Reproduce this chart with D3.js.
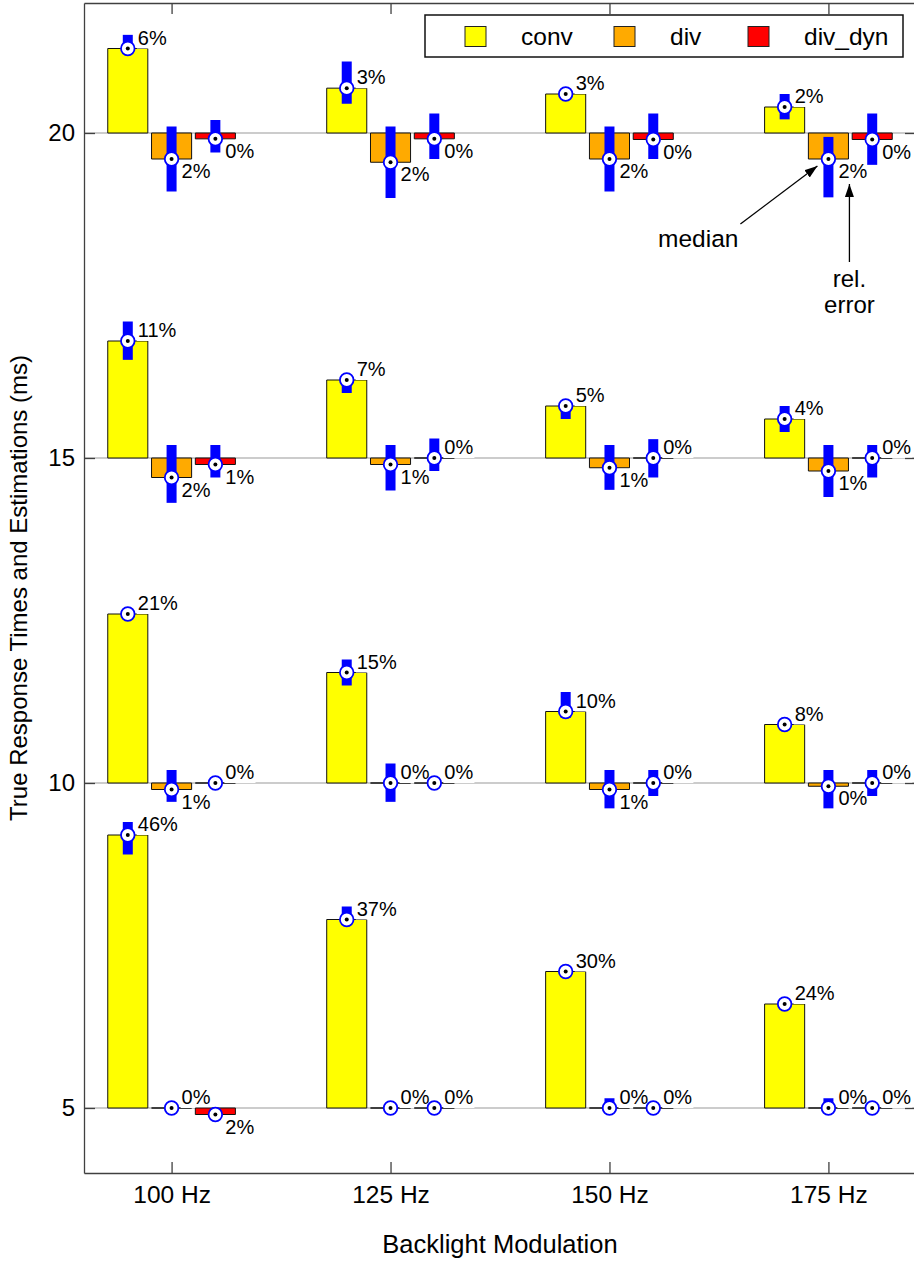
<!DOCTYPE html>
<html>
<head>
<meta charset="utf-8">
<script src="https://cdn.jsdelivr.net/npm/d3@7"></script>
<style>
  html, body { margin: 0; padding: 0; background: #fff; }
  svg { display: block; font-family: 'Liberation Sans', Arial, Helvetica, sans-serif; }
</style>
</head>
<body>
<div id="chart"></div>
<script>
// ---- data ----
const categories = ['100 Hz', '125 Hz', '150 Hz', '175 Hz'];
const seriesNames = ['conv', 'div', 'div_dyn'];
const trueTimes = [20, 15, 10, 5];

// median estimation [true time][modulation], ms
const convMedian = [
  [21.30, 20.69, 20.60, 20.40],
  [16.80, 16.20, 15.80, 15.60],
  [12.60, 11.70, 11.10, 10.90],
  [9.20, 7.90, 7.10, 6.60]
];
const divMedian = [
  [19.60, 19.55, 19.60, 19.60],
  [14.70, 14.90, 14.85, 14.80],
  [9.90, 10.00, 9.90, 9.95],
  [5.00, 5.00, 5.00, 5.00]
];
const divDynMedian = [
  [19.91, 19.91, 19.90, 19.90],
  [14.90, 15.00, 15.00, 15.00],
  [10.00, 10.00, 10.00, 10.00],
  [4.90, 5.00, 5.00, 5.00]
];

// spread of the estimations (blue bars), low / high
const convLow = [
  [21.22, 20.45, 20.60, 20.21],
  [16.51, 16.00, 15.60, 15.40],
  [12.60, 11.50, 11.00, 10.90],
  [8.90, 7.85, 7.10, 6.60]
];
const convHigh = [
  [21.51, 21.10, 20.60, 20.60],
  [17.10, 16.20, 15.80, 15.80],
  [12.60, 11.90, 11.40, 10.90],
  [9.40, 8.10, 7.10, 6.60]
];
const divLow = [
  [19.10, 19.00, 19.10, 19.01],
  [14.31, 14.50, 14.51, 14.40],
  [9.71, 9.71, 9.61, 9.61],
  [5.00, 5.00, 4.95, 4.95]
];
const divHigh = [
  [20.10, 20.10, 20.10, 19.94],
  [15.20, 15.20, 15.20, 15.20],
  [10.20, 10.30, 10.20, 10.20],
  [5.00, 5.00, 5.15, 5.15]
];
const divDynLow = [
  [19.70, 19.60, 19.60, 19.51],
  [14.70, 14.80, 14.70, 14.70],
  [10.00, 10.00, 9.80, 9.80],
  [4.90, 5.00, 5.00, 5.00]
];
const divDynHigh = [
  [20.20, 20.30, 20.30, 20.30],
  [15.20, 15.30, 15.29, 15.20],
  [10.00, 10.00, 10.20, 10.20],
  [4.90, 5.00, 5.00, 5.00]
];

// relative error labels, %
const convRelErr = [[6, 3, 3, 2], [11, 7, 5, 4], [21, 15, 10, 8], [46, 37, 30, 24]];
const divRelErr = [[2, 2, 2, 2], [2, 1, 1, 1], [1, 0, 1, 0], [0, 0, 0, 0]];
const divDynRelErr = [[0, 0, 0, 0], [1, 0, 0, 0], [0, 0, 0, 0], [2, 0, 0, 0]];

// ---- style ----
const COLORS = ['#ffff00', '#ffaa00', '#ff0000'];
const ERR_BLUE = '#0000ff';
const AXIS = '#404040';

const series = [
  { med: convMedian, lo: convLow, hi: convHigh, rel: convRelErr },
  { med: divMedian, lo: divLow, hi: divHigh, rel: divRelErr },
  { med: divDynMedian, lo: divDynLow, hi: divDynHigh, rel: divDynRelErr }
];

const W = 914, H = 1263;
const P = { left: 84, right: 916, top: 3, bottom: 1173 };
const OFFSET = [-0.2, 0, 0.2];

const x = d3.scaleLinear().domain([-0.4, categories.length - 0.6]).range([P.left, P.right]);
const y = d3.scaleLinear().domain([4, 22]).range([P.bottom, P.top]);
const bw = x(0.183) - x(0);

const svg = d3.select('#chart').append('svg')
  .attr('width', W).attr('height', H);

svg.append('defs').append('marker')
  .attr('id', 'arrow')
  .attr('markerUnits', 'userSpaceOnUse')
  .attr('markerWidth', 14).attr('markerHeight', 10)
  .attr('refX', 13).attr('refY', 4.5)
  .attr('orient', 'auto')
  .append('path').attr('d', 'M0,0L13,4.5L0,9Z').attr('fill', '#000');

// reference lines at the true response times
svg.append('g').selectAll('line').data(trueTimes).join('line')
  .attr('x1', P.left).attr('x2', P.right)
  .attr('y1', d => y(d)).attr('y2', d => y(d))
  .attr('stroke', '#9a9a9a').attr('stroke-width', 1.2);

// one series after the other (labels have a white box like the original)
series.forEach((s, si) => {
  const g = svg.append('g');
  trueTimes.forEach((ref, ri) => {
    categories.forEach((cat, ci) => {
      const v = s.med[ri][ci];
      const cx = x(ci + OFFSET[si]);
      const bx = cx - bw / 2;
      g.append('path')
        .attr('d', `M${bx},${y(ref)}H${bx + bw}V${y(v)}H${bx}Z`)
        .attr('fill', COLORS[si])
        .attr('stroke', '#111').attr('stroke-width', 1);
    });
  });
  trueTimes.forEach((ref, ri) => {
    categories.forEach((cat, ci) => {
      const cx = x(ci + OFFSET[si]);
      g.append('line')
        .attr('x1', cx).attr('x2', cx)
        .attr('y1', y(s.lo[ri][ci])).attr('y2', y(s.hi[ri][ci]))
        .attr('stroke', ERR_BLUE).attr('stroke-width', 10);
    });
  });
  trueTimes.forEach((ref, ri) => {
    categories.forEach((cat, ci) => {
      const v = s.med[ri][ci];
      const cx = x(ci + OFFSET[si]), cy = y(v);
      g.append('circle').attr('cx', cx).attr('cy', cy).attr('r', 6.8)
        .attr('fill', '#fff').attr('stroke', ERR_BLUE).attr('stroke-width', 1.8);
      g.append('circle').attr('cx', cx).attr('cy', cy).attr('r', 2)
        .attr('fill', '#000');
      const up = v >= ref - 1e-9;
      const t = g.append('text')
        .attr('x', cx + 10)
        .attr('y', up ? cy - 4 : cy + 19)
        .attr('font-size', 20)
        .attr('fill', '#000')
        .text(s.rel[ri][ci] + '%');
      const b = t.node().getBBox();
      g.insert('rect', () => t.node())
        .attr('x', b.x - 1).attr('y', b.y)
        .attr('width', b.width + 2).attr('height', b.height)
        .attr('fill', '#fff');
    });
  });
});

// axes
function styleAxis(sel, size) {
  sel.attr('font-size', size || 24).attr('font-family', null);
  sel.select('.domain').attr('stroke', AXIS).attr('stroke-width', 1.3);
  sel.selectAll('.tick line').attr('stroke', AXIS).attr('stroke-width', 1.3);
  sel.selectAll('.tick text').attr('fill', '#000');
}
const idx = categories.map((c, i) => i);

svg.append('g').attr('transform', `translate(${P.left},0)`)
  .call(d3.axisLeft(y).tickValues(trueTimes).tickSize(-11).tickSizeOuter(0).tickPadding(9))
  .call(styleAxis, 24);
svg.append('g').attr('transform', `translate(${P.right},0)`)
  .call(d3.axisRight(y).tickValues(trueTimes).tickSize(-11).tickSizeOuter(0).tickFormat(''))
  .call(styleAxis);
svg.append('g').attr('transform', `translate(0,${P.bottom})`)
  .call(d3.axisBottom(x).tickValues(idx).tickFormat(i => categories[i])
    .tickSize(-11).tickSizeOuter(0).tickPadding(13))
  .call(styleAxis, 24.5);
svg.append('g').attr('transform', `translate(0,${P.top})`)
  .call(d3.axisTop(x).tickValues(idx).tickFormat('').tickSize(-11).tickSizeOuter(0))
  .call(styleAxis);

svg.append('text')
  .attr('x', (P.left + P.right) / 2).attr('y', 1253)
  .attr('text-anchor', 'middle').attr('font-size', 25.5)
  .text('Backlight Modulation');
svg.append('text')
  .attr('transform', `translate(27,${(P.top + P.bottom) / 2}) rotate(-90)`)
  .attr('text-anchor', 'middle').attr('font-size', 24)
  .text('True Response Times and Estimations (ms)');

// legend
const lg = svg.append('g').attr('transform', 'translate(425,15)');
lg.append('rect').attr('width', 478).attr('height', 42)
  .attr('fill', '#fff').attr('stroke', '#111').attr('stroke-width', 1.5);
const legendX = [40, 189, 323];
seriesNames.forEach((name, i) => {
  lg.append('rect').attr('x', legendX[i]).attr('y', 11.5)
    .attr('width', 21).attr('height', 20)
    .attr('fill', COLORS[i]).attr('stroke', '#222').attr('stroke-width', 1);
  lg.append('text').attr('x', legendX[i] + 56).attr('y', 30)
    .attr('font-size', 24.5).text(name);
});

// annotations pointing at the div marker of 175 Hz / 20 ms
const ax = x(3 + OFFSET[1]), ay = y(divMedian[0][3]);
const ann = svg.append('g');
ann.append('line')
  .attr('x1', ax - 88).attr('y1', ay + 65)
  .attr('x2', ax - 11).attr('y2', ay + 7)
  .attr('stroke', '#000').attr('stroke-width', 1.3)
  .attr('marker-end', 'url(#arrow)');
ann.append('text').attr('x', ax - 90).attr('y', ay + 88)
  .attr('text-anchor', 'end').attr('font-size', 24.5).text('median');
ann.append('line')
  .attr('x1', ax + 21).attr('y1', ay + 103)
  .attr('x2', ax + 21).attr('y2', ay + 25)
  .attr('stroke', '#000').attr('stroke-width', 1.3)
  .attr('marker-end', 'url(#arrow)');
ann.append('text').attr('x', ax + 21).attr('y', ay + 128)
  .attr('text-anchor', 'middle').attr('font-size', 24).text('rel.');
ann.append('text').attr('x', ax + 21).attr('y', ay + 154)
  .attr('text-anchor', 'middle').attr('font-size', 24).text('error');
</script>
</body>
</html>
